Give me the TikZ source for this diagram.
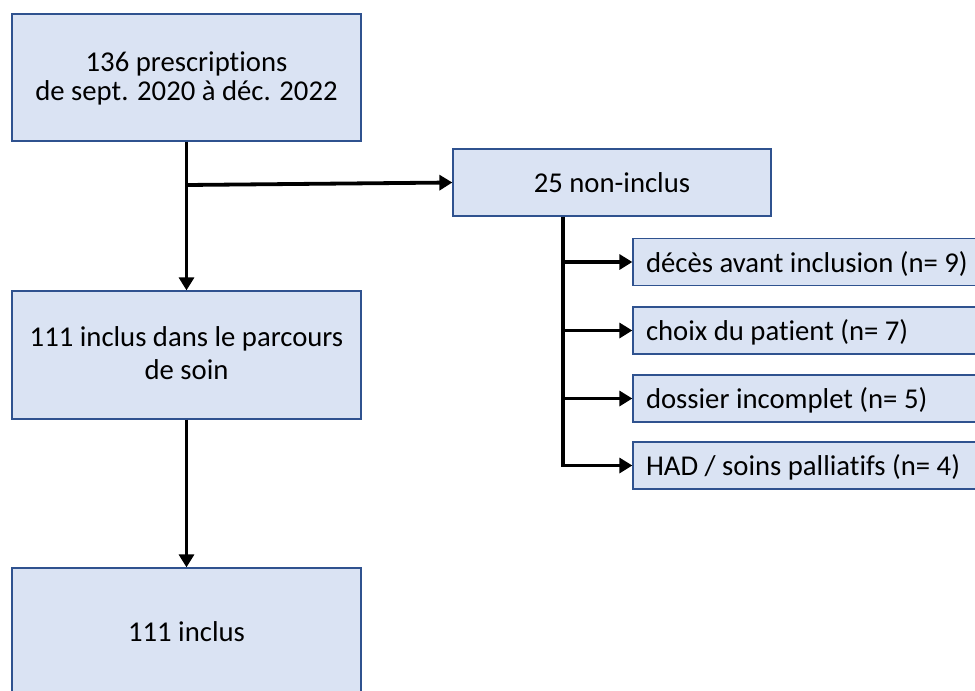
\documentclass[tikz,border=0pt]{standalone}
\usepackage{fontspec}
\setmainfont{Carlito}[Ligatures={NoCommon}]
\usetikzlibrary{arrows.meta}
\definecolor{boxfill}{HTML}{DAE3F3}
\definecolor{boxline}{HTML}{2F528F}
\begin{document}
\begin{tikzpicture}[x=1pt,y=-1pt,
  flowbox/.style={draw=boxline, fill=boxfill, line width=1.3pt,
    inner sep=0pt, font=\fontsize{28.7}{29}\selectfont,
    text height=20pt, text depth=0pt},
  bigbox/.style={flowbox, minimum width=349pt, text width=340pt, align=flush center},
  smallbox/.style={flowbox, minimum width=357pt, minimum height=47pt,
    inner xsep=13pt, text width=331pt, align=flush left},
  conn/.style={line width=3.8pt, -{Triangle[length=13pt,width=15pt]}}
]
\useasboundingbox (0,0) rectangle (975,691);

% main column
\node[bigbox, minimum height=127pt, text depth=33pt] (b1) at (186.5,77.5)
  {136 prescriptions\\de sept. 2020 à déc. 2022};
\node[bigbox, minimum height=128pt, text depth=37pt] (b2) at (186.5,355)
  {111 inclus dans le parcours\\[4pt]de soin};
\node[bigbox, minimum height=127pt] (b3) at (186.5,631.5) {111 inclus};

% exclusions
\node[flowbox, minimum width=318pt, minimum height=67pt] (nc) at (612,182.5)
  {25 non-inclus};
\node[smallbox] (s1) at (811.5,262)   {décès avant inclusion (n= 9)};
\node[smallbox] (s2) at (811.5,330.5) {choix du patient (n= 7)};
\node[smallbox] (s3) at (811.5,398.5) {dossier incomplet (n= 5)};
\node[smallbox] (s4) at (811.5,465.5) {HAD / soins palliatifs (n= 4)};

% connectors
\coordinate (j1) at (186.5,185);
\coordinate (trunk) at (563,0);
\draw[conn] (b1.south) -- (b2.north);
\draw[conn] (j1) -- (nc.west);
\draw[conn] (b2.south) -- (b3.north);
\draw[conn] (nc.south -| trunk) |- (s4.west);
\draw[conn] (s1.west -| trunk) -- (s1.west);
\draw[conn] (s2.west -| trunk) -- (s2.west);
\draw[conn] (s3.west -| trunk) -- (s3.west);
\end{tikzpicture}
\end{document}
